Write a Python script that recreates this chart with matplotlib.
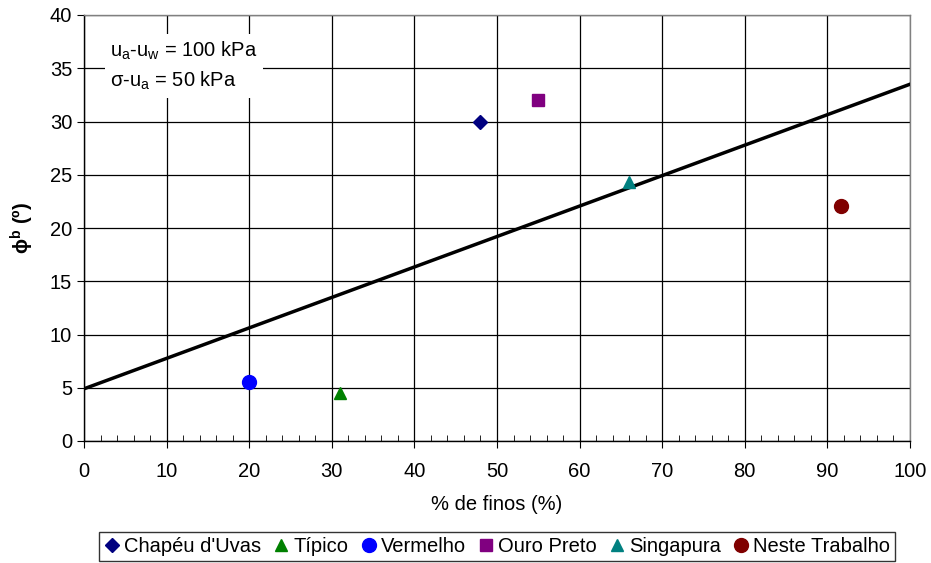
import matplotlib
matplotlib.use("Agg")
import matplotlib.pyplot as plt
from matplotlib.ticker import MultipleLocator
import numpy as np

plt.rcParams['font.family'] = ['Liberation Sans', 'DejaVu Sans']

names = ["Chapéu d'Uvas", "Típico", "Vermelho", "Ouro Preto", "Singapura", "Neste Trabalho"]
finos = [48, 31, 20, 55, 66, 91.7]
phib = [30, 4.5, 5.5, 32, 24.3, 22.1]
markers = ['D', '^', 'o', 's', '^', 'o']
colors = ['#000080', '#008000', '#0000FF', '#800080', '#008080', '#800000']
msizes = [7, 9, 10, 9, 9, 10]

line_x = [0, 100]
line_y = [4.9, 33.5]

FS = 14.5

fig = plt.figure(figsize=(9.31, 5.63), dpi=100)
ax = fig.add_axes([84/931, 1-441/563, (910-84)/931, (441-15)/563])

ax.set_xlim(0, 100)
ax.set_ylim(0, 40)
ax.xaxis.set_major_locator(MultipleLocator(10))
ax.xaxis.set_minor_locator(MultipleLocator(2))
ax.yaxis.set_major_locator(MultipleLocator(5))
ax.grid(True, which='major', color='black', linewidth=0.9)
ax.set_axisbelow(True)
for s in ax.spines.values():
    s.set_color('#808080')
    s.set_linewidth(1.0)
ax.spines['bottom'].set_color('black')
ax.spines['left'].set_color('black')
ax.tick_params(axis='x', which='minor', direction='in', length=4, color='black')
ax.tick_params(axis='both', which='major', direction='out', length=5, labelsize=FS, color='black')
ax.tick_params(axis='x', which='major', pad=10)

ax.plot(line_x, line_y, color='black', linewidth=2.5, zorder=3)

for n, x, y, m, c, ms in zip(names, finos, phib, markers, colors, msizes):
    ax.plot([x], [y], linestyle='none', marker=m, color=c, markersize=ms, label=n, zorder=4)

ax.set_xlabel('% de finos (%)', fontsize=FS, labelpad=10)
ax.set_ylabel(r'ϕ$^\mathregular{b}$ (º)', fontsize=FS, fontweight='bold', labelpad=10)

ax.text(3.2, 35.2, r'u$_\mathregular{a}$-u$_\mathregular{w}$ = 100 kPa' + '\n' + r'σ-u$_\mathregular{a}$ = 50 kPa',
        fontsize=FS, va='center', ha='left', linespacing=1.45,
        bbox=dict(facecolor='white', edgecolor='none', pad=4), zorder=5)

leg = fig.legend(loc='lower center', bbox_to_anchor=(0.534, 0.0), ncol=6, fontsize=FS,
                 frameon=True, fancybox=False, edgecolor='black', handlelength=0.8,
                 handletextpad=0.2, columnspacing=0.6, borderpad=0.25, borderaxespad=0.1)
leg.get_frame().set_linewidth(1.0)

fig.savefig('out.png', dpi=100)
